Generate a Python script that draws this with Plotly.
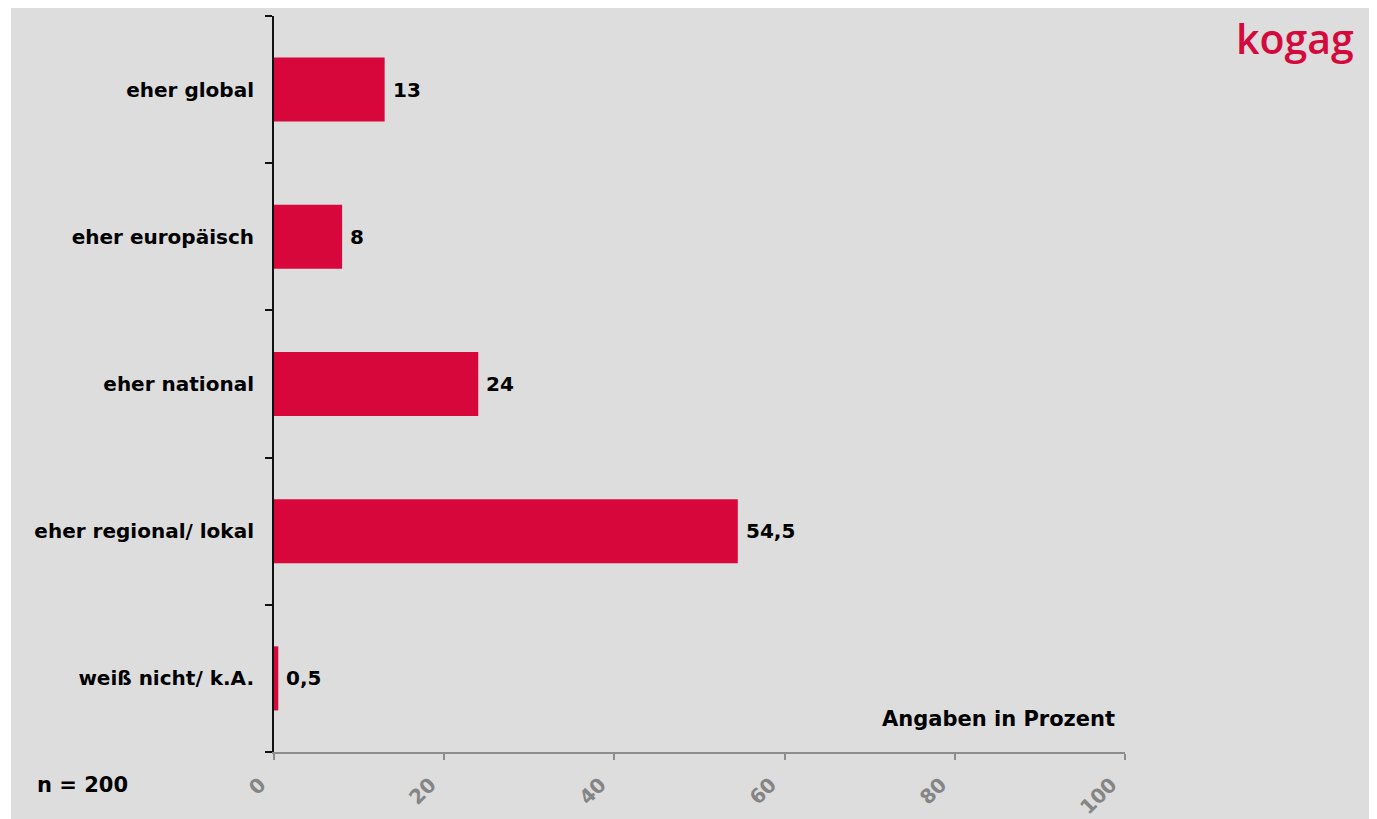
import plotly.graph_objects as go

categories = ["eher global", "eher europäisch", "eher national", "eher regional/ lokal", "weiß nicht/ k.A."]
values = [13, 8, 24, 54.5, 0.5]
x_ticks = [0, 20, 40, 60, 80, 100]

def fmt(v):
    return ("%g" % v).replace(".", ",")

# page body has an 8px margin; lay out in screen pixels and subtract it
OFF = 8
W, H = 1377 - OFF, 819 - OFF
X0, X1 = 274, 1125      # screen px of x=0 and x=100
Y0, Y1 = 16, 752        # screen px of plot top and bottom
L, T = X0 - OFF, Y0 - OFF
pw, ph = X1 - X0, Y1 - Y0
R, B = W - L - pw, H - T - ph

FONT = "DejaVu Sans"
RED = "#D7063B"

fig = go.Figure()
fig.add_trace(go.Bar(
    y=categories, x=values, orientation="h",
    marker=dict(color=RED, line=dict(width=0)),
    hoverinfo="skip",
))

annotations = []
for c, v in zip(categories, values):
    annotations.append(dict(
        x=v, y=c, xref="x", yref="y", text=fmt(v), showarrow=False,
        xanchor="left", yanchor="middle", xshift=6,
        font=dict(family=FONT, size=20, color="black", weight="bold"),
    ))

def px_x(p):
    return (p - X0) / pw

def px_y(p):
    return (Y1 - p) / ph

annotations += [
    dict(x=px_x(1117), y=px_y(719), xref="paper", yref="paper", text="Angaben in Prozent",
         showarrow=False, xanchor="right", yanchor="middle",
         font=dict(family=FONT, size=21, color="black", weight="bold")),
    dict(x=px_x(35), y=px_y(785), xref="paper", yref="paper", text="n = 200",
         showarrow=False, xanchor="left", yanchor="middle",
         font=dict(family=FONT, size=21, color="black", weight="bold")),
    dict(x=px_x(1356), y=px_y(38), xref="paper", yref="paper", text="kogag",
         showarrow=False, xanchor="right", yanchor="middle",
         font=dict(family="Open Sans", size=41, color="#D40A3C", weight=600)),
]

fig.update_layout(
    width=W, height=H,
    margin=dict(l=L, r=R, t=T, b=B, pad=0, autoexpand=False),
    paper_bgcolor="white", plot_bgcolor="rgba(0,0,0,0)",
    showlegend=False,
    bargap=0.565,
    annotations=annotations,
    shapes=[dict(type="rect", xref="paper", yref="paper", layer="below",
                 x0=px_x(11), x1=px_x(1372), y0=px_y(830), y1=px_y(7),
                 fillcolor="#DDDDDD", line=dict(width=0))],
    xaxis=dict(range=[0, 100], tickvals=x_ticks, ticktext=[str(t) for t in x_ticks],
               showgrid=False, zeroline=False, showline=True, linecolor="#8C8C8C", linewidth=2,
               ticks="outside", ticklen=6, tickcolor="#8C8C8C", tickwidth=2,
               tickangle=-45, ticklabelshift=-14, ticklabelstandoff=5,
               tickfont=dict(family=FONT, size=20, color="#858585", weight="bold"),
               automargin=False, fixedrange=True),
    yaxis=dict(categoryorder="array", categoryarray=categories[::-1],
               showgrid=False, zeroline=False, showline=True, linecolor="#111111", linewidth=2,
               ticks="outside", ticklen=7, tickcolor="#111111", tickwidth=2,
               tickson="boundaries", ticklabelstandoff=14,
               tickfont=dict(family=FONT, size=20, color="black", weight="bold"),
               automargin=False, fixedrange=True),
)

fig.write_html("out.html")
